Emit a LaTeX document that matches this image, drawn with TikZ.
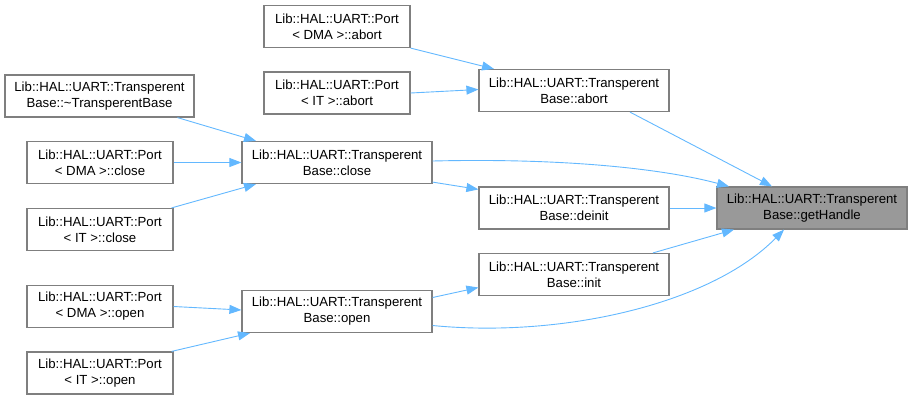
\documentclass[tikz,border=0pt]{standalone}
\usepackage{fontspec}
\setmainfont{Liberation Sans}
\usetikzlibrary{arrows.meta}
\definecolor{edgeblue}{HTML}{63B8FF}
\definecolor{boxgray}{HTML}{7F7F7F}
\definecolor{hlfill}{HTML}{999999}
\tikzset{
  fn/.style={draw=boxgray, line width=1.2pt, fill=white, rectangle, align=center,
    minimum height=42pt, inner sep=0pt, font=\fontsize{13.2}{16}\selectfont},
  wide/.style={fn, minimum width=190pt},
  narrow/.style={fn, minimum width=146pt},
  hl/.style={wide, fill=hlfill},
  edge/.style={draw=edgeblue, line width=0.9pt, -{Triangle[length=12pt,width=9pt]}}
}
\begin{document}
\begin{tikzpicture}[x=1pt,y=-1pt]
\useasboundingbox (0,0) rectangle (912,400);
\node[narrow] (dmaabort) at (337,26.5) {Lib::HAL::UART::Port\\< DMA >::abort};
\node[narrow] (itabort) at (337,93) {Lib::HAL::UART::Port\\< IT >::abort};
\node[wide, minimum width=189pt] (dtor) at (99.5,96) {Lib::HAL::UART::Transperent\\Base::\textasciitilde TransperentBase};
\node[narrow] (dmaclose) at (100,162.5) {Lib::HAL::UART::Port\\< DMA >::close};
\node[wide] (tbclose) at (337,162.5) {Lib::HAL::UART::Transperent\\Base::close};
\node[narrow] (itclose) at (100,229.5) {Lib::HAL::UART::Port\\< IT >::close};
\node[narrow] (dmaopen) at (100,306.5) {Lib::HAL::UART::Port\\< DMA >::open};
\node[wide] (tbopen) at (337,311.5) {Lib::HAL::UART::Transperent\\Base::open};
\node[narrow] (itopen) at (100,373) {Lib::HAL::UART::Port\\< IT >::open};
\node[wide] (tbabort) at (574,90.5) {Lib::HAL::UART::Transperent\\Base::abort};
\node[wide] (tbdeinit) at (574,208) {Lib::HAL::UART::Transperent\\Base::deinit};
\node[wide] (tbinit) at (574,274.5) {Lib::HAL::UART::Transperent\\Base::init};
\node[hl] (gethandle) at (812,208) {Lib::HAL::UART::Transperent\\Base::getHandle};

\draw[edge] (dmaabort.south east) -- ([xshift=-80]tbabort.north);
\draw[edge] (itabort.east) -- ([yshift=1]tbabort.west);
\draw[edge] ([xshift=56]tbabort.south) -- ([xshift=-40]gethandle.north);
\draw[edge] ([xshift=78]dtor.south) -- ([xshift=-81]tbclose.north);
\draw[edge] (dmaclose.east) -- (tbclose.west);
\draw[edge] ([xshift=-2]itclose.north east) -- ([xshift=-81]tbclose.south);
\draw[edge] ([yshift=1.5]tbclose.east) .. controls (560,158) and (660,168) .. ([xshift=-83]gethandle.north);
\draw[edge] ([yshift=2]tbclose.south east) -- ([yshift=-3]tbdeinit.north west);
\draw[edge] (tbdeinit.east) -- (gethandle.west);
\draw[edge] ([xshift=79]tbinit.north) -- ([xshift=-78]gethandle.south);
\draw[edge] ([yshift=14]tbopen.east) -- ([yshift=-13]tbinit.west);
\draw[edge] ([yshift=-14]tbopen.east) .. controls (560,338) and (710,305) .. ([xshift=-28]gethandle.south);
\draw[edge] (dmaopen.east) -- ([yshift=1.5]tbopen.west);
\draw[edge] ([xshift=-2]itopen.north east) -- ([xshift=-87]tbopen.south);
\end{tikzpicture}
\end{document}
